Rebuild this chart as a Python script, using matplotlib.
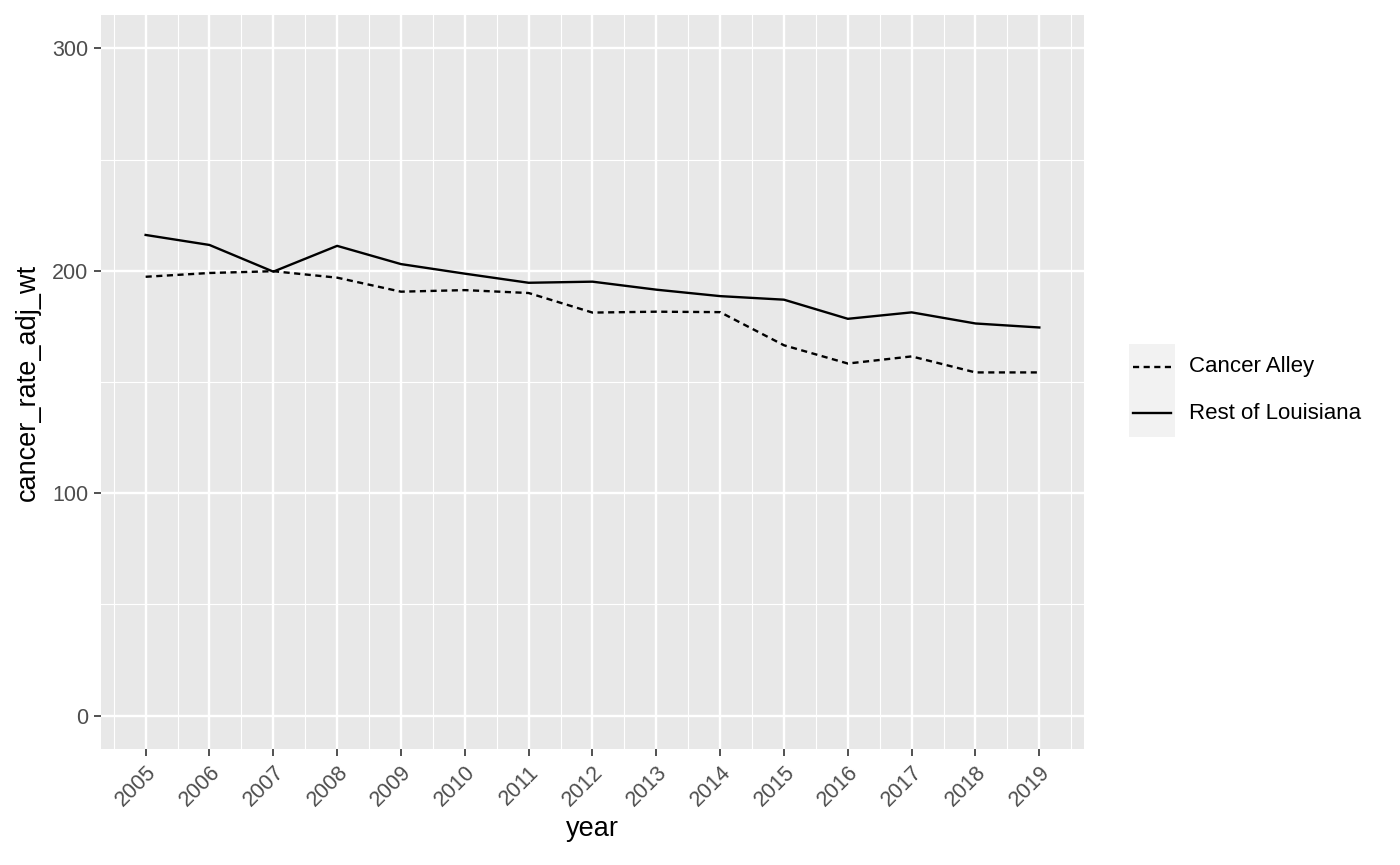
import numpy as np
import matplotlib
matplotlib.use("Agg")
import matplotlib.pyplot as plt
from matplotlib.lines import Line2D

plt.rcParams['font.family'] = ['Liberation Sans', 'DejaVu Sans']

# data
years = [2005, 2006, 2007, 2008, 2009, 2010, 2011, 2012, 2013, 2014,
         2015, 2016, 2017, 2018, 2019]
cancer_alley = [197.3, 199.0, 199.8, 196.9, 190.6, 191.3, 190.0, 181.2, 181.6, 181.4,
                166.5, 158.3, 161.5, 154.3, 154.3]
rest_of_la = [216.1, 211.6, 199.6, 211.2, 203.0, 198.7, 194.6, 195.1, 191.5, 188.6,
              187.0, 178.4, 181.3, 176.3, 174.5]
y_ticks = [0, 100, 200, 300]
labels = ['Cancer Alley', 'Rest of Louisiana']
dash = (0, (2.6, 1.9))

fig = plt.figure(figsize=(14, 8.65), dpi=100)
ax = fig.add_axes([0.0721, 0.1341, 0.7022, 0.8486])
ax.set_facecolor('#E8E8E8')

ax.plot(years, cancer_alley, color='black', lw=1.7, linestyle=dash)
ax.plot(years, rest_of_la, color='black', lw=1.7)

ax.set_xlim(2004.3, 2019.7)
ax.set_ylim(-15, 315)
ax.set_xticks(years)
ax.set_xticklabels([str(y) for y in years], rotation=45, ha='right', rotation_mode='anchor')
ax.set_xticks(np.arange(2004.5, 2020, 1.0), minor=True)
ax.set_yticks(y_ticks)
ax.set_yticks([50, 150, 250], minor=True)

ax.grid(which='major', color='white', lw=1.7)
ax.grid(which='minor', color='white', lw=0.8)
ax.set_axisbelow(True)
for s in ax.spines.values():
    s.set_visible(False)
ax.tick_params(which='major', length=5, width=1.2, color='#333333',
               labelsize=15.5, labelcolor='#4D4D4D')
ax.tick_params(which='minor', length=0)
ax.tick_params(axis='x', pad=4)
ax.tick_params(axis='y', pad=4)

ax.set_xlabel('year', fontsize=19.5, labelpad=4)
ax.set_ylabel('cancer_rate_adj_wt', fontsize=19.5, labelpad=8)

# legend drawn like ggplot: grey key box, no title
fig.patches.append(plt.Rectangle((1129 / 1400, 1 - 437 / 865), 46 / 1400, 93 / 865,
                                 transform=fig.transFigure, facecolor='#F2F2F2',
                                 edgecolor='none', zorder=0))
for i, (lab, ls) in enumerate(zip(labels, [dash, '-'])):
    yk = 1 - (367 + 46 * i) / 865
    fig.lines.append(Line2D([1133 / 1400, 1171 / 1400], [yk, yk], transform=fig.transFigure,
                            color='black', lw=1.7, linestyle=ls))
    fig.text(1189 / 1400, yk, lab, fontsize=16, va='center', ha='left')

fig.savefig('out.png', dpi=100)
